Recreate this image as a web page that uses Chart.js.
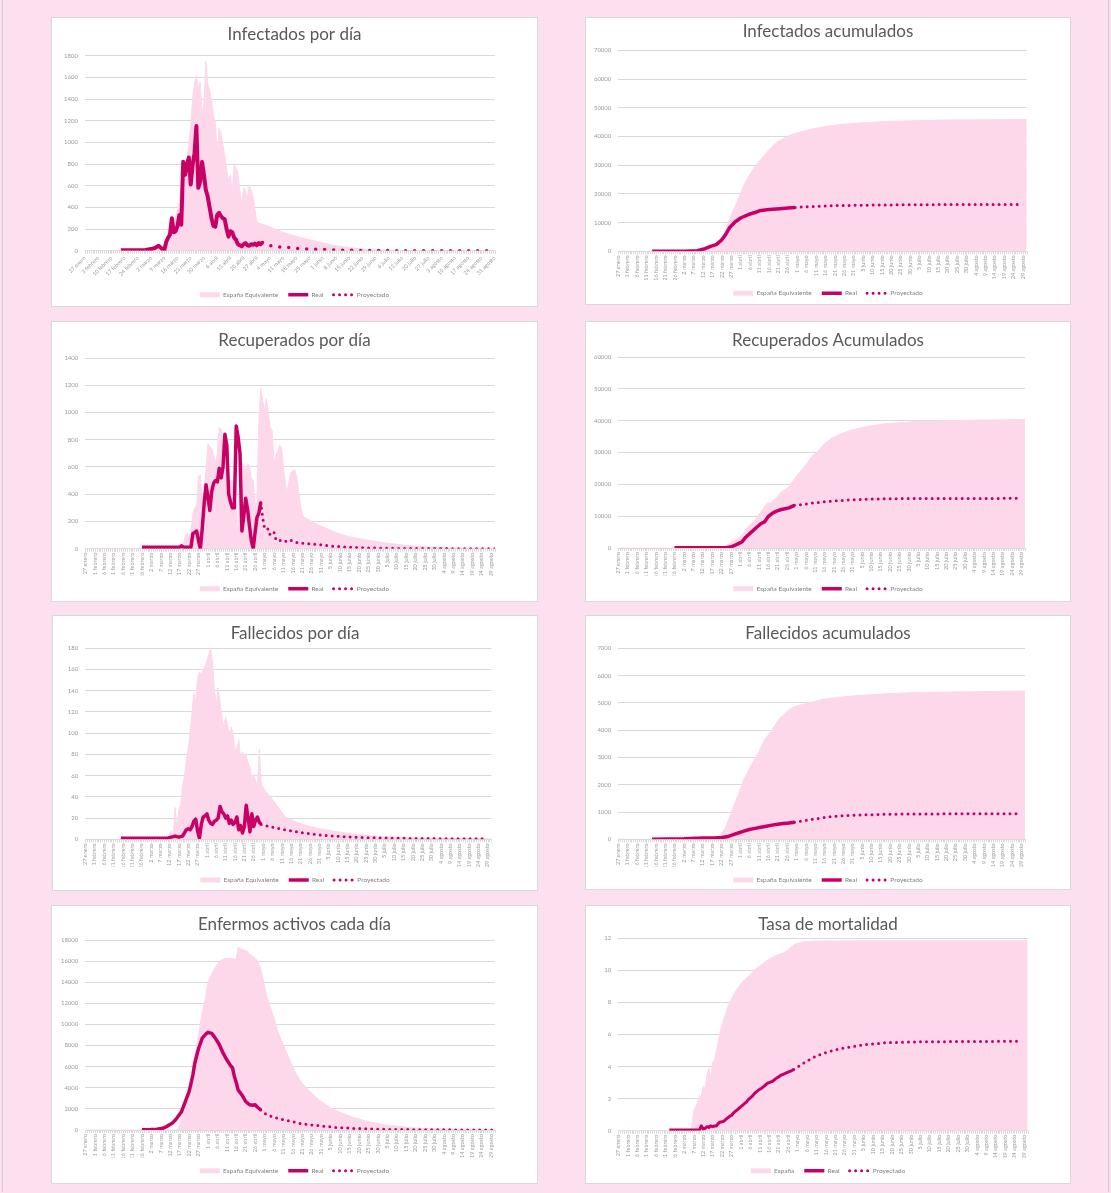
<!DOCTYPE html>
<html>
<head>
<meta charset="utf-8">
<script src="https://cdn.jsdelivr.net/npm/chart.js@4"></script>
<style>
  body { margin: 0; background: #fde0ef; width: 1111px; height: 1193px; position: relative; overflow: hidden; font-family: Lato, sans-serif; }
  .marco { position: absolute; left: 2px; top: 0; width: 1105px; height: 1192px; border-left: 1px solid #cfcfcf; border-right: 1px solid #cfcfcf; }
  .panel { position: absolute; background: #fff; box-shadow: 0 0 0 1px #d9d9d9; }
  .panel canvas { position: absolute; left: 0; top: 0; }
</style>
</head>
<body>
<div class="marco"></div>
<script>
// etiquetas del eje x (día 0 = 27 enero)
const dias7 = ['27 enero','3 febrero','10 febrero','17 febrero','24 febrero','2 marzo','9 marzo','16 marzo','23 marzo','30 marzo',
  '6 abril','13 abril','20 abril','27 abril','4 mayo','11 mayo','18 mayo','25 mayo','1 junio','8 junio','15 junio','22 junio',
  '29 junio','6 julio','13 julio','20 julio','27 julio','3 agosto','10 agosto','17 agosto','24 agosto','31 agosto'];
const dias5 = ['27 enero','1 febrero','6 febrero','11 febrero','16 febrero','21 febrero','26 febrero','2 marzo','7 marzo','12 marzo',
  '17 marzo','22 marzo','27 marzo','1 abril','6 abril','11 abril','16 abril','21 abril','26 abril','1 mayo','6 mayo','11 mayo',
  '16 mayo','21 mayo','26 mayo','31 mayo','5 junio','10 junio','15 junio','20 junio','25 junio','30 junio','5 julio','10 julio',
  '15 julio','20 julio','25 julio','30 julio','4 agosto','9 agosto','14 agosto','19 agosto','24 agosto','29 agosto'];

// series: [día, valor]
const infDiaEsp = [[0,0],[30,2],[33,5],[36,10],[38,15],[40,30],[41,40],[42,35],[43,80],[44,120],[45,150],[46,230],[47,260],[48,320],
  [49,390],[50,450],[51,560],[52,640],[53,720],[54,800],[55,1000],[56,1150],[57,1400],[58,1550],[59,1620],[60,1500],[61,1560],
  [62,1280],[63,1350],[64,1750],[65,1540],[66,1480],[67,1380],[68,1250],[69,1180],[70,880],[71,1130],[72,1080],[73,980],[74,880],
  [75,760],[76,640],[77,700],[78,520],[79,790],[80,760],[81,720],[82,560],[83,420],[84,580],[85,560],[86,480],[87,610],[88,560],
  [89,500],[90,380],[91,270],[92,255],[95,240],[100,205],[106,163],[115,117],[124,80],[132,49],[141,25],[150,12],[159,6],[175,1],[217,0]];
const infDiaReal = [[19,5],[32,6],[35,15],[37,25],[39,45],[40,30],[41,12],[42,5],[43,80],[44,120],[45,150],[46,300],[47,170],[48,180],
  [49,230],[50,330],[51,240],[52,820],[53,700],[54,800],[55,860],[56,610],[57,790],[58,900],[59,1150],[60,580],[61,640],[62,820],
  [63,700],[64,560],[65,500],[66,400],[67,300],[68,230],[69,220],[70,330],[71,350],[72,320],[73,300],[74,290],[75,200],[76,130],
  [77,180],[78,170],[79,120],[80,100],[81,60],[82,50],[83,40],[84,60],[85,70],[86,50],[87,45],[88,60],[89,55],[90,65],[91,50],
  [92,70],[93,60],[94,75]];
const infDiaProy = [[94,75],[97,50],[101,38],[107,30],[112,22],[117,17],[122,13],[127,10],[132,7],[137,5],[142,3],[150,2],[160,1],[175,0],[217,0]];

const infAcuEsp = [[0,0],[30,0],[40,60],[45,500],[50,1600],[53,2300],[55,4000],[57,7500],[58,9300],[60,12800],[64,18600],[67,23500],
  [71,27900],[74,30700],[78,33700],[81,36000],[85,38300],[89,39700],[92,40600],[97,41600],[106,43000],[115,43900],[124,44500],
  [142,45200],[159,45500],[177,45750],[217,45900]];
const infAcuReal = [[18,0],[35,50],[42,200],[46,900],[49,1700],[52,2300],[55,4000],[57,5800],[59,8100],[62,10200],[65,11600],
  [67,12200],[70,13000],[73,13600],[75,14100],[79,14500],[82,14650],[86,14850],[90,15100],[94,15250]];
const infAcuProy = [[94,15250],[97,15450],[106,15700],[115,15900],[124,16000],[142,16150],[160,16250],[214,16280]];

const recDiaEsp = [[0,0],[48,0],[50,10],[52,40],[53,90],[54,110],[55,100],[56,120],[57,260],[58,300],[59,310],[60,530],[61,540],
  [62,330],[63,420],[64,580],[65,770],[66,750],[67,730],[68,690],[69,630],[70,700],[71,890],[72,880],[73,770],[74,600],[75,560],
  [76,480],[77,500],[78,500],[79,360],[80,340],[81,0],[82,600],[83,630],[84,600],[85,580],[86,620],[87,610],[88,520],[89,500],
  [90,330],[91,340],[92,950],[93,1180],[94,1090],[95,1010],[96,1100],[97,1000],[98,890],[99,870],[100,630],[101,680],[102,720],
  [103,760],[104,740],[105,600],[106,480],[107,410],[108,500],[109,560],[110,570],[111,580],[112,530],[113,420],[114,330],[115,250],
  [116,230],[120,200],[125,165],[130,135],[135,108],[140,88],[150,62],[160,40],[170,25],[180,14],[190,8],[200,4],[217,2]];
const recDiaReal = [[30,10],[50,10],[51,22],[52,10],[56,10],[57,110],[58,120],[59,130],[60,60],[61,0],[62,150],[63,330],[64,470],
  [65,380],[66,280],[67,420],[68,480],[69,500],[70,490],[71,590],[72,520],[73,600],[74,840],[75,760],[76,400],[77,340],[78,300],
  [79,300],[80,900],[81,820],[82,700],[83,130],[84,240],[85,370],[86,290],[87,170],[88,60],[89,0],[90,120],[91,230],[92,260],[93,340]];
const recDiaProy = [[93,340],[94,230],[95,150],[96,140],[97,145],[98,100],[99,110],[100,120],[101,70],[102,55],[103,60],[105,65],
  [107,50],[109,62],[112,45],[116,40],[120,34],[124,30],[130,20],[135,15],[141,10],[150,5],[160,3],[175,1],[217,0]];

const recAcuEsp = [[0,0],[50,0],[55,200],[58,800],[62,2400],[66,4000],[69,6600],[73,8700],[76,11300],[79,13700],[80,14300],
  [81,14000],[84,15500],[87,17600],[91,19200],[93,20900],[96,23300],[100,26000],[103,28600],[107,30700],[110,32800],[114,34500],
  [117,35400],[124,37000],[133,38200],[142,39000],[160,39800],[178,40000],[217,40400]];
const recAcuReal = [[30,100],[58,150],[60,300],[63,1050],[66,1900],[68,3400],[71,5000],[74,6600],[76,7600],[78,8200],[80,9900],
  [82,10800],[84,11500],[87,12100],[89,12350],[91,12600],[94,13400]];
const recAcuProy = [[94,13400],[98,13650],[102,14000],[107,14350],[115,14750],[124,15150],[142,15480],[160,15550],[215,15600]];

const falDiaEsp = [[0,0],[44,0],[45,5],[46,8],[47,4],[48,30],[49,10],[50,28],[51,32],[52,50],[53,60],[54,75],[55,85],[56,100],
  [57,118],[58,138],[59,130],[60,152],[61,158],[62,155],[63,160],[64,163],[65,168],[66,175],[67,180],[68,166],[69,142],[70,125],
  [71,143],[72,130],[73,115],[74,106],[75,115],[76,108],[77,100],[78,106],[79,98],[80,84],[81,86],[82,94],[83,76],[84,82],[85,80],
  [86,80],[87,72],[88,68],[89,58],[90,62],[91,55],[92,50],[93,85],[94,52],[96,46],[99,40],[104,28],[107,21],[113,16],[120,12],
  [125,10],[135,7],[143,5],[160,2.5],[178,1],[217,0.3]];
const falDiaReal = [[19,1],[44,1],[46,2],[48,3],[50,2],[52,3],[53,6],[54,9],[55,10],[56,9],[57,12],[58,17],[59,19],[60,8],[61,1],
  [62,14],[63,21],[64,22],[65,24],[66,18],[67,15],[68,14],[69,17],[70,18],[71,20],[72,31],[73,26],[74,24],[75,20],[76,22],[77,15],
  [78,18],[79,14],[80,16],[81,21],[82,9],[83,13],[84,6],[85,12],[86,32],[87,20],[88,7],[89,24],[90,12],[91,18],[92,21],[93,16],[94,14]];
const falDiaProy = [[94,14],[96,13],[100,11.5],[105,9.5],[110,8],[115,6.5],[120,5.2],[125,4.2],[130,3.4],[135,2.8],[142,2],
  [150,1.5],[160,1.2],[175,0.8],[190,0.6],[215,0.4]];

const falAcuEsp = [[0,0],[50,0],[53,40],[57,400],[60,950],[64,1620],[67,2200],[71,2720],[75,3210],[78,3640],[82,4000],[85,4340],
  [89,4620],[92,4800],[96,4900],[103,5020],[110,5140],[124,5250],[142,5330],[160,5380],[178,5400],[217,5430]];
const falAcuReal = [[18,5],[35,20],[45,50],[52,60],[55,70],[58,90],[61,160],[64,230],[67,300],[70,360],[73,400],[76,440],[79,480],
  [82,520],[85,550],[88,580],[91,600],[94,625]];
const falAcuProy = [[94,625],[98,672],[107,770],[115,843],[124,880],[142,917],[160,929],[215,941]];

const actEsp = [[0,0],[49,0],[50,500],[51,1100],[53,2370],[55,3630],[57,5400],[58,7100],[60,9000],[62,11200],[64,12800],[65,14000],
  [67,14800],[69,15450],[71,15950],[73,16200],[76,16260],[79,16200],[80,16170],[81,17350],[82,17200],[84,17050],[86,16900],
  [87,16650],[89,16420],[91,16100],[93,15300],[94,14500],[96,12800],[98,11700],[100,10600],[102,9350],[105,8050],[108,6800],
  [111,5550],[115,4400],[120,3470],[125,2700],[132,1900],[141,1260],[150,790],[159,470],[177,160],[194,60],[217,10]];
const actReal = [[30,20],[35,40],[38,80],[41,160],[43,320],[46,630],[48,1000],[50,1500],[51,1740],[53,2680],[55,3630],[56,4400],
  [57,5200],[58,6300],[60,7700],[62,8700],[64,9100],[65,9250],[67,9150],[69,8680],[71,8100],[73,7300],[75,6650],[77,6100],
  [78,5900],[79,5100],[80,4500],[81,3800],[83,3320],[85,2700],[87,2400],[89,2350],[90,2400],[91,2200],[93,1890]];
const actProy = [[93,1890],[95,1580],[99,1260],[104,1010],[110,790],[115,570],[124,410],[132,250],[141,160],[159,60],[180,20],[216,0]];

const tasaEsp = [[0,0],[38,0],[39,0.3],[40,1.2],[41,1.5],[42,1.8],[43,2.2],[44,2.1],[45,2.8],[46,2.6],[47,3.5],[48,3.9],[49,3.2],
  [50,4.3],[51,4.4],[52,5.0],[53,5.5],[54,6.2],[55,6.6],[56,7.0],[57,7.3],[58,7.7],[60,8.2],[62,8.65],[64,9.0],[66,9.3],[70,9.75],
  [73,10.1],[77,10.45],[80,10.7],[84,10.95],[88,11.1],[91,11.4],[94,11.65],[98,11.78],[105,11.83],[130,11.84],[217,11.84]];
const tasaReal = [[27,0.05],[43,0.05],[44,0.3],[45,0.1],[46,0.15],[47,0.25],[48,0.2],[49,0.3],[50,0.25],[51,0.3],[52,0.3],
  [53,0.45],[54,0.55],[55,0.55],[56,0.6],[57,0.7],[58,0.8],[59,0.9],[60,0.95],[61,1.1],[62,1.2],[63,1.3],[64,1.4],[65,1.5],
  [66,1.6],[67,1.7],[68,1.8],[69,1.95],[70,2.05],[71,2.15],[72,2.3],[73,2.4],[74,2.5],[75,2.58],[76,2.65],[77,2.75],[78,2.85],
  [79,2.95],[80,3.0],[81,3.05],[82,3.1],[83,3.2],[84,3.3],[85,3.35],[86,3.45],[87,3.5],[88,3.55],[89,3.6],[90,3.65],[91,3.7],
  [92,3.75],[93,3.82]];
const tasaProy = [[93,3.82],[96,4.05],[100,4.35],[104,4.6],[108,4.8],[112,4.95],[117,5.1],[124,5.25],[132,5.38],[141,5.48],
  [150,5.52],[160,5.54],[180,5.56],[214,5.58]];

const rosa = '#fdd8ea';
const magenta = '#c80066';
const gris = '#9a9a9a';

function pts(a) {
  return a.map(p => ({ x: p[0], y: p[1] }));
}

// marcas pequeñas de cada día bajo el eje
const marcas = {
  id: 'marcas',
  afterDraw(chart) {
    const x = chart.scales.x, b = chart.chartArea.bottom, ctx = chart.ctx;
    ctx.save();
    ctx.strokeStyle = '#d9d9d9';
    ctx.lineWidth = 1;
    ctx.beginPath();
    for (let d = 0; d <= 217; d++) {
      const px = Math.round(x.getPixelForValue(d)) + 0.5;
      ctx.moveTo(px, b);
      ctx.lineTo(px, b + 3);
    }
    ctx.stroke();
    ctx.restore();
  }
};

function grafico(p) {
  const div = document.createElement('div');
  div.className = 'panel';
  div.style.cssText = 'left:' + p.x + 'px;top:' + p.y + 'px;width:' + p.w + 'px;height:' + p.h + 'px';
  const cv = document.createElement('canvas');
  cv.width = p.w;
  cv.height = p.h;
  div.appendChild(cv);
  document.body.appendChild(div);

  const legH = 6.5 + 10 + 10;
  const padB = p.h - p.leyenda - 10 - 3.25;
  const xH = (p.h - padB - legH) - p.abajo;
  const etiquetas = p.paso == 7 ? dias7 : dias5;

  new Chart(cv, {
    type: 'line',
    data: {
      datasets: [
        { label: p.nombre, data: pts(p.esp), fill: 'origin', backgroundColor: rosa, borderColor: rosa, borderWidth: 1, pointRadius: 0, order: 3 },
        { label: 'Real', data: pts(p.real), fill: false, borderColor: magenta, borderWidth: p.grosor, borderJoinStyle: 'round', pointRadius: 0, order: 1 },
        { label: 'Proyectado', data: pts(p.proy), fill: false, borderColor: magenta, borderWidth: p.punto, borderDash: [0, p.hueco], borderCapStyle: 'round', pointRadius: 0, order: 2 }
      ]
    },
    options: {
      responsive: false,
      animation: false,
      devicePixelRatio: 1,
      events: [],
      layout: { padding: { left: 0, right: 0, top: 0, bottom: padB } },
      elements: { line: { tension: 0 } },
      scales: {
        x: {
          type: 'linear', min: 0, max: 217,
          grid: { display: false, drawTicks: false },
          border: { color: '#d9d9d9' },
          ticks: {
            stepSize: p.paso, autoSkip: false, includeBounds: false,
            minRotation: p.giro, maxRotation: p.giro, padding: 4,
            color: gris, font: { family: 'Lato', size: 5.5 },
            callback: v => etiquetas[Math.round(v / p.paso)] || ''
          },
          afterFit: s => { s.height = xH; }
        },
        y: {
          min: 0, max: p.max,
          grid: { color: '#d9d9d9', drawTicks: false },
          border: { display: false },
          ticks: { stepSize: p.max / p.n, padding: 7, color: gris, font: { family: 'Lato', size: 6 }, callback: v => String(v) },
          afterFit: s => { s.width = p.izq; }
        },
        // margen vacío a la derecha para que título y leyenda queden centrados en el panel
        margen: {
          type: 'linear', position: 'right', min: 0, max: 1,
          grid: { display: false, drawTicks: false },
          border: { display: false },
          ticks: { display: false },
          afterFit: s => { s.width = p.w - p.der; }
        }
      },
      plugins: {
        tooltip: { enabled: false },
        title: {
          display: true, text: p.titulo, color: '#595959',
          font: { family: 'Lato', size: 17, weight: 'normal' },
          padding: { top: p.tituloY - 10.2, bottom: p.arriba - p.tituloY - 10.2 }
        },
        legend: {
          position: 'bottom',
          labels: {
            usePointStyle: true, pointStyleWidth: 20, boxHeight: 5, padding: 10,
            color: '#7f7f7f', font: { family: 'Lato', size: 6.5 },
            generateLabels: () => [
              { text: p.nombre, fillStyle: rosa, strokeStyle: rosa, lineWidth: 0, pointStyle: 'rect', fontColor: '#7f7f7f', datasetIndex: 0 },
              { text: 'Real', fillStyle: magenta, strokeStyle: magenta, lineWidth: 3.5, pointStyle: 'line', fontColor: '#7f7f7f', datasetIndex: 1 },
              { text: 'Proyectado', fillStyle: magenta, strokeStyle: magenta, lineWidth: 3, lineDash: [0, 6], lineCap: 'round', pointStyle: 'line', fontColor: '#7f7f7f', datasetIndex: 2 }
            ]
          }
        }
      }
    },
    plugins: [marcas]
  });
}

const paneles = [
  { titulo: 'Infectados por día', nombre: 'España Equivalente', esp: infDiaEsp, real: infDiaReal, proy: infDiaProy, max: 1800, n: 9, paso: 7, giro: 45, grosor: 4, punto: 3.5, hueco: 9,
    x: 52, y: 18, w: 485, h: 288, izq: 33, der: 442.7, arriba: 37.7, abajo: 232.7, tituloY: 16.7, leyenda: 276.7 },
  { titulo: 'Infectados acumulados', nombre: 'España Equivalente', esp: infAcuEsp, real: infAcuReal, proy: infAcuProy, max: 70000, n: 7, paso: 5, giro: 90, grosor: 3.5, punto: 3, hueco: 6,
    x: 586, y: 18, w: 484, h: 286, izq: 32.3, der: 440.7, arriba: 32.3, abajo: 233.3, tituloY: 13.3, leyenda: 275.3 },
  { titulo: 'Recuperados por día', nombre: 'España Equivalente', esp: recDiaEsp, real: recDiaReal, proy: recDiaProy, max: 1400, n: 7, paso: 5, giro: 90, grosor: 3.5, punto: 3, hueco: 6,
    x: 52, y: 322, w: 485, h: 279, izq: 33.3, der: 442.7, arriba: 36, abajo: 226.7, tituloY: 18.3, leyenda: 266.7 },
  { titulo: 'Recuperados Acumulados', nombre: 'España Equivalente', esp: recAcuEsp, real: recAcuReal, proy: recAcuProy, max: 60000, n: 6, paso: 5, giro: 90, grosor: 3.5, punto: 3, hueco: 6,
    x: 586, y: 322, w: 484, h: 279, izq: 32.3, der: 439, arriba: 35, abajo: 226, tituloY: 18.3, leyenda: 266.7 },
  { titulo: 'Fallecidos por día', nombre: 'España Equivalente', esp: falDiaEsp, real: falDiaReal, proy: falDiaProy, max: 180, n: 9, paso: 5, giro: 90, grosor: 3.5, punto: 3, hueco: 6,
    x: 53, y: 616, w: 484, h: 274, izq: 32.3, der: 438.3, arriba: 32.3, abajo: 223.3, tituloY: 18, leyenda: 264 },
  { titulo: 'Fallecidos acumulados', nombre: 'España Equivalente', esp: falAcuEsp, real: falAcuReal, proy: falAcuProy, max: 7000, n: 7, paso: 5, giro: 90, grosor: 3.5, punto: 3, hueco: 6,
    x: 586, y: 616, w: 484, h: 273, izq: 32.3, der: 439, arriba: 32.3, abajo: 223.3, tituloY: 18, leyenda: 264 },
  { titulo: 'Enfermos activos cada día', nombre: 'España Equivalente', esp: actEsp, real: actReal, proy: actProy, max: 18000, n: 9, paso: 5, giro: 90, grosor: 3.5, punto: 3, hueco: 6,
    x: 52, y: 906, w: 485, h: 277, izq: 33.3, der: 442.7, arriba: 34, abajo: 224, tituloY: 19, leyenda: 264.7 },
  { titulo: 'Tasa de mortalidad', nombre: 'España', esp: tasaEsp, real: tasaReal, proy: tasaProy, max: 12, n: 6, paso: 5, giro: 90, grosor: 3, punto: 3, hueco: 6,
    x: 586, y: 906, w: 484, h: 277, izq: 32.3, der: 441.7, arriba: 32.3, abajo: 224.7, tituloY: 19, leyenda: 264.7 }
];

paneles.forEach(grafico);
</script>
</body>
</html>
